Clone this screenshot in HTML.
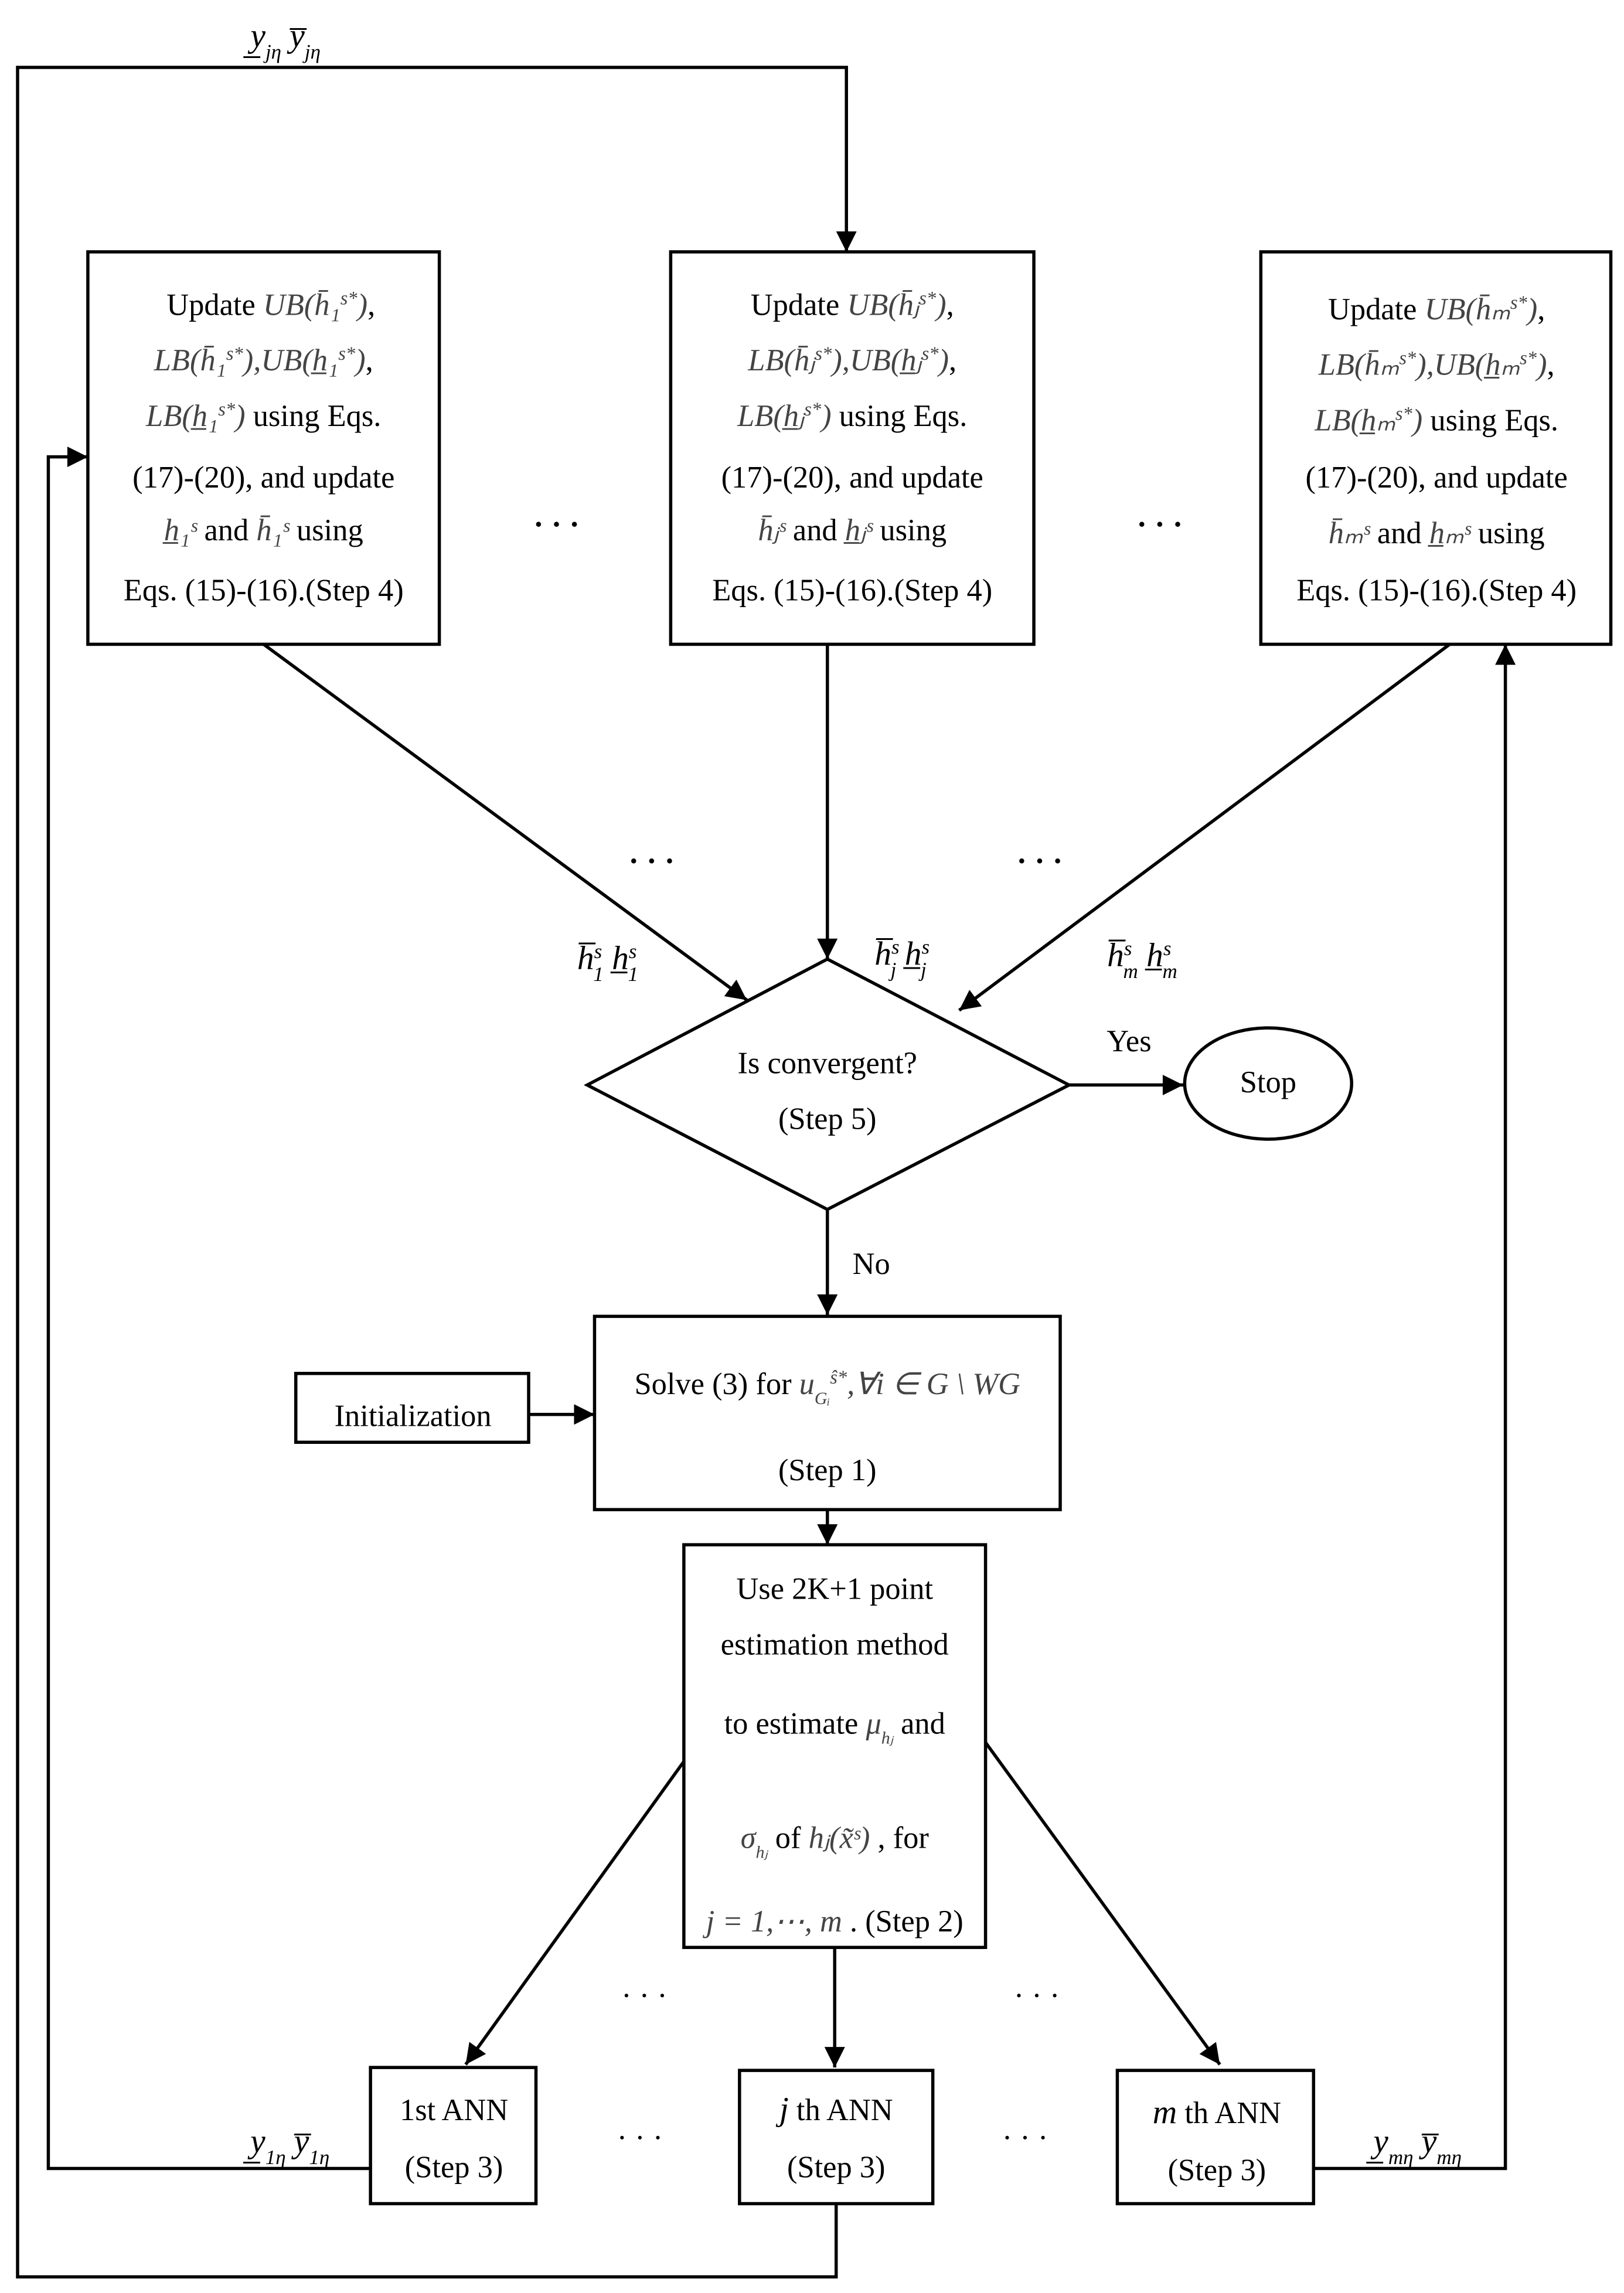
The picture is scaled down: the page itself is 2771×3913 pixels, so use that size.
<!DOCTYPE html>
<html><head><meta charset="utf-8"><style>
html,body{margin:0;padding:0;background:#fff;}
svg{display:block;}
text{font-family:"Liberation Serif","Times New Roman",serif;font-size:21px;fill:#000;}
.m{font-style:italic;fill:#444;}
.b{font-size:23px;font-style:italic;}
</style></head><body>
<svg width="2771" height="3913" viewBox="0 0 1109 1566" xmlns="http://www.w3.org/2000/svg">
<defs>
<marker id="A" viewBox="0 0 10 10" markerWidth="16" markerHeight="14" refX="10" refY="5" orient="auto" markerUnits="userSpaceOnUse"><path d="M0,0 L10,5 L0,10 z" fill="#000"/></marker></defs>
<g stroke="#000" stroke-width="2.2" fill="none">
<rect x="60" y="172" width="240" height="268"/>
<rect x="458" y="172" width="248" height="268"/>
<rect x="861" y="172" width="239" height="268"/>
<path d="M401,741 L565,655 L730,741 L565,826 Z"/>
<ellipse cx="866" cy="740" rx="57" ry="38"/>
<rect x="406" y="899" width="318" height="132"/>
<rect x="202" y="938" width="159" height="47"/>
<rect x="467" y="1055" width="206" height="275"/>
<rect x="253" y="1412" width="113" height="93"/>
<rect x="505" y="1414" width="132" height="91"/>
<rect x="763" y="1414" width="134" height="91"/>
<path d="M571,1505 L571,1555 L12,1555 L12,46 L578,46 L578,172" marker-end="url(#A)"/>
<path d="M253,1481 L33,1481 L33,312 L60,312" marker-end="url(#A)"/>
<path d="M897,1481 L1028,1481 L1028,440" marker-end="url(#A)"/>
<path d="M180,440 L510,683" marker-end="url(#A)"/>
<path d="M565,440 L565,655" marker-end="url(#A)"/>
<path d="M990,440 L655,690" marker-end="url(#A)"/>
<path d="M730,741 L808,741" marker-end="url(#A)"/>
<path d="M565,826 L565,898" marker-end="url(#A)"/>
<path d="M361,966 L406,966" marker-end="url(#A)"/>
<path d="M565,1031 L565,1055" marker-end="url(#A)"/>
<path d="M467,1203 L318,1410" marker-end="url(#A)"/>
<path d="M570,1330 L570,1412" marker-end="url(#A)"/>
<path d="M673,1190 L833,1410" marker-end="url(#A)"/>
</g>
<g text-anchor="middle">
<text x="185" y="215">Update  <tspan class="m">UB(h̄₁<tspan baseline-shift="super" font-size="13">s*</tspan>)</tspan>,</text>
<text x="180" y="253"><tspan class="m">LB(h̄₁<tspan baseline-shift="super" font-size="13">s*</tspan>),UB(h̲₁<tspan baseline-shift="super" font-size="13">s*</tspan>)</tspan>,</text>
<text x="180" y="291"><tspan class="m">LB(h̲₁<tspan baseline-shift="super" font-size="13">s*</tspan>)</tspan>  using Eqs.</text>
<text x="180" y="333">(17)-(20), and update</text>
<text x="180" y="369"><tspan class="m">h̲₁ˢ</tspan>   and   <tspan class="m">h̄₁ˢ</tspan>   using</text>
<text x="180" y="410">Eqs. (15)-(16).(Step 4)</text>

<text x="582" y="215">Update  <tspan class="m">UB(h̄ⱼ<tspan baseline-shift="super" font-size="13">s*</tspan>)</tspan>,</text>
<text x="582" y="253"><tspan class="m">LB(h̄ⱼ<tspan baseline-shift="super" font-size="13">s*</tspan>),UB(h̲ⱼ<tspan baseline-shift="super" font-size="13">s*</tspan>)</tspan>,</text>
<text x="582" y="291"><tspan class="m">LB(h̲ⱼ<tspan baseline-shift="super" font-size="13">s*</tspan>)</tspan>  using Eqs.</text>
<text x="582" y="333">(17)-(20), and update</text>
<text x="582" y="369"><tspan class="m">h̄ⱼˢ</tspan>    and    <tspan class="m">h̲ⱼˢ</tspan>    using</text>
<text x="582" y="410">Eqs. (15)-(16).(Step 4)</text>

<text x="981" y="218">Update  <tspan class="m">UB(h̄ₘ<tspan baseline-shift="super" font-size="13">s*</tspan>)</tspan>,</text>
<text x="981" y="256"><tspan class="m">LB(h̄ₘ<tspan baseline-shift="super" font-size="13">s*</tspan>),UB(h̲ₘ<tspan baseline-shift="super" font-size="13">s*</tspan>)</tspan>,</text>
<text x="981" y="294"><tspan class="m">LB(h̲ₘ<tspan baseline-shift="super" font-size="13">s*</tspan>)</tspan>  using Eqs.</text>
<text x="981" y="333">(17)-(20), and update</text>
<text x="981" y="371"><tspan class="m">h̄ₘˢ</tspan>    and    <tspan class="m">h̲ₘˢ</tspan>    using</text>
<text x="981" y="410">Eqs. (15)-(16).(Step 4)</text>

<text x="565" y="733">Is convergent?</text>
<text x="565" y="771">(Step 5)</text>
<text x="866" y="746">Stop</text>
<text x="565" y="952">Solve (3) for   <tspan class="m">u<tspan baseline-shift="sub" font-size="12">Gᵢ</tspan><tspan baseline-shift="super" font-size="13">ŝ*</tspan>,∀i ∈ G \ WG</tspan></text>
<text x="565" y="1011">(Step 1)</text>
<text x="282" y="974">Initialization</text>
<text x="570" y="1092">Use 2K+1 point</text>
<text x="570" y="1130">estimation method</text>
<text x="570" y="1184">to estimate   <tspan class="m">μ<tspan baseline-shift="sub" font-size="12">hⱼ</tspan></tspan>  and</text>
<text x="570" y="1262"><tspan class="m">σ<tspan baseline-shift="sub" font-size="12">hⱼ</tspan></tspan> of <tspan class="m">hⱼ(x̃ˢ)</tspan> , for</text>
<text x="570" y="1319"><tspan class="m">j = 1,⋯, m</tspan> . (Step 2)</text>
<text x="310" y="1448">1st ANN</text>
<text x="310" y="1487">(Step 3)</text>
<text x="571" y="1448"><tspan font-style="italic" font-size="23">j</tspan> th ANN</text>
<text x="571" y="1487">(Step 3)</text>
<text x="831" y="1450"><tspan font-style="italic" font-size="23">m</tspan> th ANN</text>
<text x="831" y="1489">(Step 3)</text>
<text x="771" y="718">Yes</text>
<text x="595" y="870">No</text>
<g font-size="30" font-weight="bold">
<text x="380" y="365">· · ·</text><text x="792" y="365">· · ·</text>
<text x="445" y="595">· · ·</text><text x="710" y="595">· · ·</text>
</g>
<g font-size="24">
<text x="440" y="1370">· · ·</text><text x="708" y="1370">· · ·</text>
<text x="437" y="1467">· · ·</text><text x="700" y="1467">· · ·</text>
</g>
<text class="b" x="195" y="32">y̲<tspan font-size="14" baseline-shift="sub">jη</tspan> y̅<tspan font-size="14" baseline-shift="sub">jη</tspan></text>
<text class="b" x="198" y="1470">y̲<tspan font-size="14" baseline-shift="sub">1η</tspan> y̅<tspan font-size="14" baseline-shift="sub">1η</tspan></text>
<text class="b" x="968" y="1470">y̲<tspan font-size="14" baseline-shift="sub">mη</tspan> y̅<tspan font-size="14" baseline-shift="sub">mη</tspan></text>
<text class="b" x="415" y="662">h̅<tspan font-size="14" baseline-shift="super">s</tspan><tspan font-size="14" dx="-6" baseline-shift="sub">1</tspan> h̲<tspan font-size="14" baseline-shift="super">s</tspan><tspan font-size="14" dx="-6" baseline-shift="sub">1</tspan></text>
<text class="b" x="616" y="659">h̅<tspan font-size="14" baseline-shift="super">s</tspan><tspan font-size="14" dx="-6" baseline-shift="sub">j</tspan> h̲<tspan font-size="14" baseline-shift="super">s</tspan><tspan font-size="14" dx="-6" baseline-shift="sub">j</tspan></text>
<text class="b" x="780" y="660">h̅<tspan font-size="14" baseline-shift="super">s</tspan><tspan font-size="14" dx="-6" baseline-shift="sub">m</tspan> h̲<tspan font-size="14" baseline-shift="super">s</tspan><tspan font-size="14" dx="-6" baseline-shift="sub">m</tspan></text>
</g>
</svg>
</body></html>
